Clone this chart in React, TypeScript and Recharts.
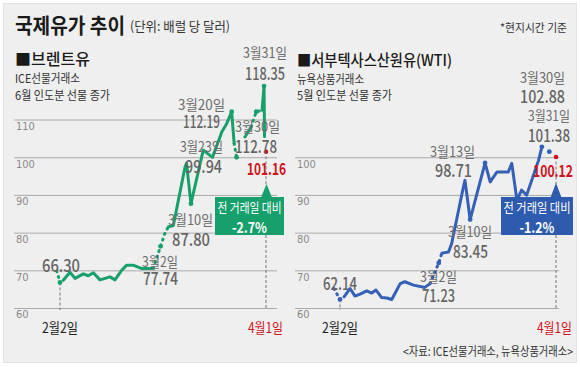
import React from 'react';
import { ComposedChart, Line, XAxis, YAxis, ReferenceLine } from 'recharts';

// ---------- DATA ----------
// x = trading-day index (0 = 2월2일, 42 = 4월1일)
const brentIdx = [-0.67, 0, 0.67, 2.04, 3.06, 4.75, 5.77, 6.79, 8.15, 10.2, 11.2, 12.6, 13.6, 14.9, 16.7, 19.0, 20.5, 21.4, 22.1, 23.1, 25.5, 25.8, 26.7, 29.2, 29.9, 31.1, 33.0, 34.0, 35.0, 35.5, 36.0, 37.7, 39.0, 40.0, 41.2, 41.5, 41.6, 41.7];
const brentVal = [70.0, 66.9, 67.5, 69.6, 68.0, 69.2, 68.7, 69.5, 67.6, 68.4, 67.6, 70.2, 71.5, 71.5, 70.6, 70.6, 76.5, 80.0, 81.7, 82.0, 97.6, 98.5, 87.8, 102.0, 101.3, 100.1, 106.9, 109.1, 112.2, 103.8, 100.1, 105.5, 108.2, 112.2, 112.6, 117.5, 119.0, 105.6];
// segment style from point i to i+1: s = solid, d = dotted, g = gap
const brentSeg = ['d', 'g', 's', 's', 's', 's', 's', 's', 's', 's', 's', 's', 's', 's', 's', 'd', 'd', 'd', 's', 's', 's', 's', 's', 's', 's', 's', 's', 's', 's', 'd', 'g', 's', 'd', 'd', 's', 's', 's'];
const brentMarks = [0, 20.5, 26.7, 35.0, 36.0, 40.0, 41.6];
const brentLast = { x: 42, v: 101.6 };

const wtiIdx = [-1.17, 0, 0.78, 1.95, 2.92, 3.9, 5.2, 6.17, 7.0, 8.1, 9.1, 10.06, 11.7, 12.6, 14.3, 16.5, 17.5, 19.2, 19.8, 21.1, 21.7, 24.0, 24.3, 25.3, 28.2, 29.2, 30.5, 32.7, 33.4, 34.4, 35.3, 36.3, 38.6, 39.25, 40.7];
const wtiVal = [65.3, 62.4, 63.1, 65.3, 63.3, 63.8, 64.7, 64.1, 64.9, 62.9, 62.8, 62.4, 66.6, 67.1, 66.2, 65.6, 66.6, 72.1, 74.7, 75.0, 77.2, 92.3, 94.0, 83.6, 98.6, 93.6, 96.2, 96.2, 98.5, 88.7, 91.4, 90.1, 99.3, 102.9, 101.6];
const wtiSeg = ['d', 'g', 's', 's', 's', 's', 's', 's', 's', 's', 's', 's', 's', 's', 's', 's', 'd', 'd', 's', 's', 's', 's', 's', 's', 's', 's', 's', 's', 's', 's', 's', 's', 's', 'g'];
const wtiMarks = [0, 19.2, 25.3, 28.2, 39.25, 40.7];
const wtiLast = { x: 42, v: 100.2 };

const brentTicks = [60, 70, 80, 90, 100, 110];
const wtiTicks = [60, 70, 80, 90, 100];

// ---------- STYLE ----------
const GREEN = '#17a06c';
const BLUE = '#3461b6';
const BLUE_BOX = '#2e5bae';
const RED = '#d0121b';
const GRAY = '#6c6c6c';
const NUMGRAY = '#646464';
const KR = "'Noto Sans CJK KR', 'Noto Sans', sans-serif";
const NUM = "'Noto Sans CJK KR', 'Noto Sans', sans-serif";
const TICK = "'Liberation Sans Narrow', 'DejaVu Sans Condensed', sans-serif";

type Row = { x: number; s?: number | null; d?: number | null; m?: number | null; r?: number | null };

function buildRows(idx: number[], val: number[], seg: string[], marks: number[], last: { x: number; v: number }): Row[] {
  const rows: Row[] = idx.map((x, i) => ({
    x,
    s: seg[i] === 's' || seg[i - 1] === 's' ? val[i] : null,
    d: seg[i] === 'd' || seg[i - 1] === 'd' ? val[i] : null,
    m: marks.includes(x) ? val[i] : null,
    r: null,
  }));
  rows.push({ x: last.x, s: null, d: null, m: null, r: last.v });
  return rows;
}

const brentRows = buildRows(brentIdx, brentVal, brentSeg, brentMarks, brentLast);
const wtiRows = buildRows(wtiIdx, wtiVal, wtiSeg, wtiMarks, wtiLast);

const makeDot = (key: 'm' | 'r', color: string, r: number) => (p: any) => {
  const v = p && p.payload ? p.payload[key] : null;
  if (v == null || p.cx == null || p.cy == null) return <g key={`${key}-${p.index}`} />;
  return <circle key={`${key}-${p.index}`} cx={p.cx} cy={p.cy} r={r} fill={color} />;
};

type ChartProps = {
  rows: Row[];
  color: string;
  ticks: number[];
  xDomain: [number, number];
  margin: { top: number; right: number; bottom: number; left: number };
  first: number;
  last: { x: number; v: number };
};

function OilChart({ rows, color, ticks, xDomain, margin, first, last }: ChartProps) {
  return (
    <ComposedChart width={290} height={367} data={rows} margin={margin}>
      <XAxis type="number" dataKey="x" domain={xDomain} hide allowDataOverflow />
      <YAxis type="number" domain={[56, 122]} hide allowDataOverflow />
      {ticks.map((t) => (
        <ReferenceLine
          key={t}
          y={t}
          stroke="#a9a9a9"
          strokeWidth={1}
          label={{ value: String(t), position: 'insideTopLeft', offset: 2, fill: '#8a8a8a', fontSize: 11, fontFamily: TICK }}
        />
      ))}
      <ReferenceLine segment={[{ x: 0, y: first }, { x: 0, y: 59.6 }]} stroke="#777" strokeDasharray="3 2" />
      <ReferenceLine segment={[{ x: last.x, y: last.v - 1.2 }, { x: last.x, y: 93 }]} stroke="#777" strokeDasharray="3 2" />
      <ReferenceLine segment={[{ x: last.x, y: 79.5 }, { x: last.x, y: 59.6 }]} stroke="#777" strokeDasharray="3 2" />
      <Line dataKey="d" stroke={color} strokeWidth={3} strokeDasharray="1 5" strokeLinecap="round" dot={false} connectNulls={false} isAnimationActive={false} />
      <Line dataKey="s" stroke={color} strokeWidth={3} strokeLinejoin="round" strokeLinecap="round" dot={false} connectNulls={false} isAnimationActive={false} />
      <Line dataKey="m" stroke="none" dot={makeDot('m', color, 2.4)} activeDot={false} connectNulls={false} isAnimationActive={false} />
      <Line dataKey="r" stroke="none" dot={makeDot('r', RED, 2.3)} activeDot={false} connectNulls={false} isAnimationActive={false} />
    </ComposedChart>
  );
}

type TProps = { x: number; y: number; t: string; s?: number; w?: number; c?: string; fw?: number; f?: string; a?: 'start' | 'middle' | 'end' };
const T = ({ x, y, t, s = 14, w, c = GRAY, fw = 400, f = KR, a = 'start' }: TProps) => (
  <text x={x} y={y} fontSize={s} fill={c} fontWeight={fw} fontFamily={f} textAnchor={a} textLength={w} lengthAdjust={w ? 'spacingAndGlyphs' : undefined}>
    {t}
  </text>
);

const N = (p: TProps) => <T s={17} fw={500} f={NUM} c={NUMGRAY} {...p} />;

export default function App() {
  const vMargin = { top: 74.8, bottom: 43.4 };
  return (
    <div style={{ position: 'absolute', left: 0, top: 0, width: 580, height: 367, background: '#ffffff', overflow: 'hidden' }}>
      <div style={{ position: 'absolute', left: 3, top: 3, width: 572, height: 358, background: '#efefef', border: '1px solid #e2e2e2' }} />
      <div style={{ position: 'absolute', left: 0, top: 0 }}>
        <OilChart rows={brentRows} color={GREEN} ticks={brentTicks} xDomain={[-9.38, 44.24]} margin={{ ...vMargin, left: 14, right: 13 }} first={66.9} last={brentLast} />
      </div>
      <div style={{ position: 'absolute', left: 290, top: 0 }}>
        <OilChart rows={wtiRows} color={BLUE} ticks={wtiTicks} xDomain={[-8.75, 42.58]} margin={{ ...vMargin, left: 5, right: 21 }} first={62.4} last={wtiLast} />
      </div>
      <svg width={580} height={367} style={{ position: 'absolute', left: 0, top: 0, pointerEvents: 'none' }}>
        {/* headers */}
        <T x={15} y={33} t="국제유가 추이" s={21} fw={700} c="#1a1a1a" w={110} />
        <T x={130} y={31} t="(단위: 배럴 당 달러)" s={13} c="#333" w={100} />
        <T x={500} y={32} t="*현지시간 기준" s={11.5} c="#333" w={67} />
        <T x={15} y={65} t="■브렌트유" s={16} fw={500} c="#1a1a1a" w={75} />
        <T x={15} y={83} t="ICE선물거래소" s={12} c="#333" w={65} />
        <T x={15} y={100} t="6월 인도분 선물 종가" s={12} c="#333" w={95} />
        <T x={297} y={66} t="■서부텍사스산원유(WTI)" s={15.5} fw={500} c="#1a1a1a" w={155} />
        <T x={297} y={83.5} t="뉴욕상품거래소" s={12} c="#333" w={67} />
        <T x={297} y={100} t="5월 인도분 선물 종가" s={12} c="#333" w={95} />

        {/* Brent annotations */}
        <T x={243} y={58} t="3월31일" w={44} />
        <N x={245} y={80} t="118.35" w={40} />
        <T x={178} y={110} t="3월20일" w={47} />
        <N x={183} y={128} t="112.19" w={37} />
        <T x={235} y={132} t="3월30일" w={45} />
        <N x={235} y={153} t="112.78" w={42} />
        <T x={180} y={152} t="3월23일" w={43} />
        <N x={185} y={173} t="99.94" w={37} />
        <N x={247} y={175} t="101.16" s={16} fw={700} c={RED} w={39} />
        <T x={168} y={225} t="3월10일" w={45} />
        <N x={172} y={246} t="87.80" w={38} />
        <T x={142} y={267} t="3월2일" w={36} />
        <N x={143} y={285} t="77.74" w={35} />
        <N x={42} y={272} t="66.30" w={38} />
        <T x={42} y={333} t="2월2일" c="#222" w={36} />
        <T x={248} y={333} t="4월1일" c={RED} w={35} />

        {/* Brent callout */}
        <polygon points="266.5,184 261,197.5 272,197.5" fill={GREEN} />
        <rect x={215} y={197} width={69} height={38} fill={GREEN} />
        <T x={217.5} y={212} t="전 거래일 대비" s={13} c="#fff" w={64} />
        <T x={249.5} y={233} t="-2.7%" s={15} fw={700} c="#fff" f={NUM} a="middle" w={35} />

        {/* WTI annotations */}
        <T x={520} y={83} t="3월30일" w={45} />
        <N x={520} y={103} t="102.88" w={45} />
        <T x={528} y={121} t="3월31일" w={42} />
        <N x={528} y={142} t="101.38" w={42} />
        <T x={430} y={157} t="3월13일" w={45} />
        <N x={435} y={177} t="98.71" w={37} />
        <N x={533} y={177} t="100.12" s={16} fw={700} c={RED} w={40} />
        <T x={448} y={237} t="3월10일" w={44} />
        <N x={453} y={258} t="83.45" w={35} />
        <T x={420} y={282} t="3월2일" w={37} />
        <N x={422} y={302} t="71.23" w={33} />
        <N x={323} y={290} t="62.14" w={34} />
        <T x={322} y={333} t="2월2일" c="#222" w={36} />
        <T x={537} y={333} t="4월1일" c={RED} w={35} />

        {/* WTI callout */}
        <polygon points="556,183 550.5,197.5 561.5,197.5" fill={BLUE_BOX} />
        <rect x={501} y={197} width={72} height={38} fill={BLUE_BOX} />
        <T x={503.5} y={212} t="전 거래일 대비" s={13} c="#fff" w={67} />
        <T x={537} y={233} t="-1.2%" s={15} fw={700} c="#fff" f={NUM} a="middle" w={35} />

        <T x={403} y={356} t="<자료: ICE선물거래소, 뉴욕상품거래소>" s={12} c="#333" w={170} />
      </svg>
    </div>
  );
}
